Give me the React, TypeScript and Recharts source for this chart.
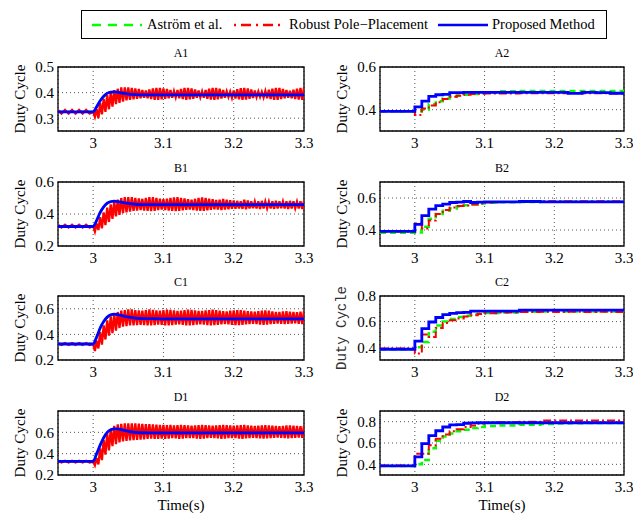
import React from "react";
import { LineChart, Line, XAxis, YAxis, CartesianGrid, ReferenceArea } from "recharts";

const SERIF = '"Liberation Serif", "Times New Roman", serif';
const MONO = '"Liberation Mono", "Courier New", monospace';

// time bases (s)
const tDense = [
  2.95, 2.955, 2.96, 2.965, 2.97, 2.975, 2.98, 2.985, 2.99, 2.995,
  3, 3.0025, 3.005, 3.0075, 3.01, 3.0125, 3.015, 3.0175, 3.02, 3.0225,
  3.025, 3.0275, 3.03, 3.0325, 3.035, 3.0375, 3.04, 3.0425, 3.045, 3.0475,
  3.05, 3.0525, 3.055, 3.0575, 3.06, 3.0625, 3.065, 3.0675, 3.07, 3.0725,
  3.075, 3.0775, 3.08, 3.0825, 3.085, 3.0875, 3.09, 3.0925, 3.095, 3.0975,
  3.1, 3.1025, 3.105, 3.1075, 3.11, 3.1125, 3.115, 3.1175, 3.12, 3.1225,
  3.125, 3.1275, 3.13, 3.1325, 3.135, 3.1375, 3.14, 3.1425, 3.145, 3.1475,
  3.15, 3.1525, 3.155, 3.1575, 3.16, 3.1625, 3.165, 3.1675, 3.17, 3.1725,
  3.175, 3.1775, 3.18, 3.1825, 3.185, 3.1875, 3.19, 3.1925, 3.195, 3.1975,
  3.2, 3.2025, 3.205, 3.2075, 3.21, 3.2125, 3.215, 3.2175, 3.22, 3.2225,
  3.225, 3.2275, 3.23, 3.2325, 3.235, 3.2375, 3.24, 3.2425, 3.245, 3.2475,
  3.25, 3.2525, 3.255, 3.2575, 3.26, 3.2625, 3.265, 3.2675, 3.27, 3.2725,
  3.275, 3.2775, 3.28, 3.2825, 3.285, 3.2875, 3.29, 3.2925, 3.295, 3.2975,
  3.3,
];
const tSmooth = [2.95, 3, 3.005, 3.01, 3.015, 3.02, 3.025, 3.03, 3.035, 3.04, 3.05, 3.06, 3.07, 3.08, 3.1, 3.2, 3.3];
const tStep = [2.95, 3, 3.01, 3.02, 3.03, 3.04, 3.05, 3.06, 3.07, 3.08, 3.09, 3.1, 3.12, 3.15, 3.18, 3.2, 3.22, 3.24, 3.26, 3.28, 3.3];

const xTicks = [3, 3.1, 3.2, 3.3];
const legendNames = ["Aström et al.", "Robust Pole\u2212Placement", "Proposed Method"];

// ---- left column (A1..D1): robust pole-placement oscillates heavily ----
const redA1 = [
  0.332, 0.318, 0.332, 0.318, 0.332, 0.318, 0.332, 0.318, 0.332, 0.318,
  0.325, 0.305, 0.335, 0.3, 0.36, 0.315, 0.375, 0.325, 0.39, 0.335,
  0.4, 0.345, 0.41, 0.355, 0.415, 0.36, 0.42, 0.365, 0.42, 0.37, 0.42,
  0.372, 0.418, 0.374, 0.416, 0.376, 0.414, 0.378, 0.41, 0.38, 0.408,
  0.378, 0.412, 0.375, 0.416, 0.372, 0.418, 0.372, 0.418, 0.374, 0.416,
  0.376, 0.414, 0.378, 0.41, 0.38, 0.406, 0.382, 0.41, 0.378, 0.414,
  0.375, 0.418, 0.372, 0.418, 0.374, 0.416, 0.376, 0.412, 0.38, 0.408,
  0.382, 0.405, 0.38, 0.41, 0.376, 0.415, 0.373, 0.418, 0.372, 0.418,
  0.374, 0.415, 0.377, 0.41, 0.38, 0.405, 0.383, 0.404, 0.38, 0.408,
  0.377, 0.413, 0.374, 0.417, 0.372, 0.418, 0.373, 0.416, 0.376, 0.412,
  0.379, 0.408, 0.382, 0.404, 0.383, 0.403, 0.381, 0.406, 0.378, 0.411,
  0.375, 0.415, 0.372, 0.418, 0.372, 0.418, 0.375, 0.414, 0.378, 0.41,
  0.38, 0.407, 0.378, 0.411, 0.375, 0.415, 0.373, 0.418, 0.372, 0.418,
];
const redB1 = [
  0.333, 0.315, 0.333, 0.315, 0.333, 0.315, 0.333, 0.315, 0.333, 0.315,
  0.325, 0.29, 0.34, 0.3, 0.38, 0.31, 0.41, 0.33, 0.44, 0.35,
  0.46, 0.37, 0.48, 0.385, 0.49, 0.395, 0.5, 0.405, 0.505, 0.41, 0.505,
  0.415, 0.505, 0.42, 0.5, 0.422, 0.498, 0.425, 0.495, 0.422, 0.5,
  0.42, 0.505, 0.418, 0.505, 0.42, 0.5, 0.424, 0.496, 0.427, 0.492,
  0.425, 0.496, 0.422, 0.5, 0.42, 0.504, 0.418, 0.505, 0.42, 0.5,
  0.423, 0.497, 0.426, 0.493, 0.428, 0.49, 0.425, 0.495, 0.422, 0.5,
  0.42, 0.503, 0.42, 0.5, 0.423, 0.496, 0.426, 0.492, 0.43, 0.488,
  0.428, 0.49, 0.425, 0.494, 0.428, 0.49, 0.43, 0.486, 0.432, 0.484,
  0.433, 0.482, 0.435, 0.48, 0.432, 0.49, 0.43, 0.485, 0.434, 0.48,
  0.436, 0.478, 0.435, 0.48, 0.432, 0.482, 0.435, 0.478, 0.436, 0.477,
  0.434, 0.48, 0.432, 0.483, 0.434, 0.48, 0.436, 0.478, 0.435, 0.48,
  0.432, 0.482, 0.434, 0.48, 0.436, 0.477, 0.434, 0.48, 0.432, 0.482,
];
const redC1 = [
  0.333, 0.317, 0.333, 0.317, 0.333, 0.317, 0.333, 0.317, 0.333, 0.317,
  0.325, 0.27, 0.35, 0.29, 0.42, 0.32, 0.47, 0.36, 0.51, 0.39,
  0.54, 0.41, 0.56, 0.43, 0.575, 0.45, 0.585, 0.46, 0.59, 0.465, 0.595,
  0.47, 0.595, 0.47, 0.59, 0.472, 0.588, 0.475, 0.585, 0.472, 0.59,
  0.47, 0.595, 0.47, 0.592, 0.473, 0.588, 0.476, 0.585, 0.474, 0.59,
  0.471, 0.594, 0.47, 0.592, 0.472, 0.588, 0.476, 0.584, 0.478, 0.586,
  0.474, 0.59, 0.471, 0.594, 0.47, 0.592, 0.473, 0.588, 0.476, 0.584,
  0.478, 0.583, 0.476, 0.587, 0.473, 0.59, 0.471, 0.593, 0.472, 0.59,
  0.475, 0.586, 0.478, 0.582, 0.48, 0.58, 0.478, 0.585, 0.475, 0.588,
  0.473, 0.59, 0.472, 0.59, 0.475, 0.586, 0.478, 0.582, 0.48, 0.58,
  0.482, 0.578, 0.48, 0.582, 0.477, 0.586, 0.475, 0.588, 0.477, 0.585,
  0.48, 0.58, 0.483, 0.576, 0.485, 0.575, 0.482, 0.58, 0.48, 0.582,
  0.482, 0.578, 0.485, 0.575, 0.486, 0.574, 0.483, 0.578, 0.48, 0.582,
];
const redD1 = [
  0.333, 0.317, 0.333, 0.317, 0.333, 0.317, 0.333, 0.317, 0.333, 0.317,
  0.325, 0.29, 0.36, 0.3, 0.45, 0.34, 0.53, 0.39, 0.59, 0.43,
  0.63, 0.47, 0.66, 0.49, 0.675, 0.505, 0.68, 0.515, 0.685, 0.52, 0.685,
  0.525, 0.685, 0.528, 0.685, 0.53, 0.682, 0.532, 0.68, 0.535, 0.678,
  0.538, 0.676, 0.54, 0.674, 0.538, 0.672, 0.54, 0.67, 0.542, 0.67,
  0.54, 0.668, 0.542, 0.67, 0.545, 0.666, 0.543, 0.668, 0.54, 0.67,
  0.542, 0.667, 0.545, 0.665, 0.547, 0.663, 0.545, 0.665, 0.542, 0.668,
  0.54, 0.67, 0.542, 0.667, 0.545, 0.664, 0.548, 0.662, 0.546, 0.665,
  0.543, 0.668, 0.54, 0.67, 0.542, 0.667, 0.545, 0.664, 0.547, 0.662,
  0.545, 0.665, 0.542, 0.668, 0.54, 0.67, 0.543, 0.666, 0.546, 0.663,
  0.548, 0.66, 0.546, 0.663, 0.543, 0.666, 0.541, 0.668, 0.543, 0.666,
  0.546, 0.663, 0.548, 0.66, 0.55, 0.658, 0.548, 0.661, 0.545, 0.664,
  0.543, 0.666, 0.545, 0.663, 0.548, 0.66, 0.55, 0.658, 0.548, 0.662,
];
const blueA1 = [0.325, 0.325, 0.345, 0.368, 0.386, 0.397, 0.402, 0.403, 0.402, 0.399, 0.394, 0.392, 0.391, 0.391, 0.391, 0.391, 0.391];
const blueB1 = [0.322, 0.322, 0.36, 0.41, 0.445, 0.468, 0.478, 0.48, 0.478, 0.474, 0.466, 0.461, 0.459, 0.458, 0.458, 0.458, 0.458];
const blueC1 = [0.325, 0.325, 0.38, 0.45, 0.5, 0.535, 0.553, 0.558, 0.555, 0.548, 0.535, 0.527, 0.524, 0.523, 0.522, 0.522, 0.522];
const blueD1 = [0.328, 0.328, 0.4, 0.48, 0.55, 0.6, 0.625, 0.633, 0.632, 0.625, 0.61, 0.6, 0.596, 0.595, 0.595, 0.595, 0.595];
// Astrom curves sit underneath the proposed one in the left column
const greenA1 = [0.325, 0.325, 0.343, 0.366, 0.384, 0.396, 0.401, 0.402, 0.401, 0.399, 0.394, 0.392, 0.391, 0.391, 0.391, 0.391, 0.391];
const greenB1 = [0.322, 0.322, 0.358, 0.408, 0.443, 0.466, 0.476, 0.478, 0.477, 0.473, 0.466, 0.461, 0.459, 0.458, 0.458, 0.458, 0.458];
const greenC1 = [0.325, 0.325, 0.378, 0.448, 0.498, 0.533, 0.551, 0.556, 0.554, 0.547, 0.535, 0.527, 0.524, 0.523, 0.522, 0.522, 0.522];
const greenD1 = [0.328, 0.328, 0.398, 0.478, 0.548, 0.598, 0.623, 0.631, 0.63, 0.624, 0.61, 0.6, 0.596, 0.595, 0.595, 0.595, 0.595];

// ---- right column (A2..D2): sampled staircase responses ----
const blueA2 = [0.392, 0.413, 0.44, 0.462, 0.47, 0.472, 0.48, 0.48, 0.481, 0.481, 0.481, 0.481, 0.481, 0.481, 0.481, 0.481, 0.476, 0.481, 0.48, 0.477, 0.481];
const greenA2 = [0.392, 0.392, 0.4, 0.425, 0.44, 0.452, 0.46, 0.466, 0.47, 0.474, 0.477, 0.48, 0.486, 0.488, 0.488, 0.488, 0.488, 0.488, 0.488, 0.488, 0.488];
const redA2 = [0.392, 0.375, 0.405, 0.42, 0.435, 0.45, 0.46, 0.465, 0.47, 0.473, 0.475, 0.476, 0.476, 0.477, 0.477, 0.477, 0.478, 0.477, 0.477, 0.476, 0.476];

const blueB2 = [0.392, 0.435, 0.49, 0.53, 0.552, 0.562, 0.572, 0.574, 0.578, 0.572, 0.574, 0.576, 0.576, 0.578, 0.576, 0.576, 0.576, 0.576, 0.576, 0.576, 0.576];
const greenB2 = [0.383, 0.385, 0.42, 0.47, 0.5, 0.52, 0.535, 0.547, 0.555, 0.56, 0.565, 0.57, 0.574, 0.575, 0.576, 0.576, 0.576, 0.576, 0.576, 0.576, 0.576];
const redB2 = [0.39, 0.44, 0.41, 0.46, 0.5, 0.525, 0.54, 0.55, 0.553, 0.56, 0.565, 0.572, 0.575, 0.578, 0.579, 0.579, 0.579, 0.579, 0.579, 0.579, 0.579];

const blueC2 = [0.384, 0.447, 0.545, 0.597, 0.632, 0.655, 0.665, 0.67, 0.672, 0.682, 0.682, 0.682, 0.682, 0.69, 0.69, 0.69, 0.69, 0.69, 0.69, 0.69, 0.69];
const greenC2 = [0.384, 0.4, 0.44, 0.52, 0.57, 0.6, 0.62, 0.635, 0.645, 0.655, 0.662, 0.667, 0.672, 0.676, 0.678, 0.678, 0.678, 0.678, 0.678, 0.678, 0.678];
const redC2 = [0.39, 0.35, 0.5, 0.48, 0.55, 0.59, 0.61, 0.625, 0.64, 0.65, 0.66, 0.665, 0.672, 0.675, 0.676, 0.675, 0.676, 0.675, 0.676, 0.675, 0.676];

const blueD2 = [0.385, 0.47, 0.595, 0.67, 0.715, 0.75, 0.77, 0.772, 0.785, 0.788, 0.79, 0.79, 0.79, 0.79, 0.79, 0.79, 0.79, 0.79, 0.79, 0.79, 0.79];
const greenD2 = [0.385, 0.4, 0.44, 0.55, 0.62, 0.66, 0.69, 0.71, 0.725, 0.74, 0.75, 0.76, 0.765, 0.772, 0.778, 0.782, 0.785, 0.787, 0.788, 0.788, 0.788];
const redD2 = [0.39, 0.5, 0.5, 0.58, 0.64, 0.68, 0.71, 0.73, 0.75, 0.765, 0.78, 0.79, 0.795, 0.8, 0.81, 0.81, 0.812, 0.812, 0.812, 0.812, 0.812];

const zip = (t: number[], v: number[]) => t.map((x, i) => ({ t: x, v: v[i] }));

const COL_X = [58, 380];
const COL_W = [246, 244];
const ROW_Y = [67, 182, 296, 411];
const PLOT_H = 64;
const YAXIS_W = 58;

interface PanelDef {
  title: string;
  row: number;
  col: number;
  domain: [number, number];
  ticks: number[];
  green: number[];
  red: number[];
  blue: number[];
  mono?: boolean;
}

const panels: PanelDef[] = [
  { title: "A1", row: 0, col: 0, domain: [0.25, 0.5], ticks: [0.3, 0.4, 0.5], green: greenA1, red: redA1, blue: blueA1 },
  { title: "A2", row: 0, col: 1, domain: [0.3, 0.6], ticks: [0.4, 0.6], green: greenA2, red: redA2, blue: blueA2 },
  { title: "B1", row: 1, col: 0, domain: [0.2, 0.6], ticks: [0.2, 0.4, 0.6], green: greenB1, red: redB1, blue: blueB1 },
  { title: "B2", row: 1, col: 1, domain: [0.3, 0.7], ticks: [0.4, 0.6], green: greenB2, red: redB2, blue: blueB2 },
  { title: "C1", row: 2, col: 0, domain: [0.2, 0.7], ticks: [0.2, 0.4, 0.6], green: greenC1, red: redC1, blue: blueC1 },
  { title: "C2", row: 2, col: 1, domain: [0.3, 0.8], ticks: [0.4, 0.6, 0.8], green: greenC2, red: redC2, blue: blueC2, mono: true },
  { title: "D1", row: 3, col: 0, domain: [0.2, 0.8], ticks: [0.2, 0.4, 0.6], green: greenD1, red: redD1, blue: blueD1 },
  { title: "D2", row: 3, col: 1, domain: [0.3, 0.9], ticks: [0.4, 0.6, 0.8], green: greenD2, red: redD2, blue: blueD2 },
];

// eslint-disable-next-line @typescript-eslint/no-explicit-any
const XTick = ({ x, y, payload }: any) => (
  <text x={x} y={y} dy="0.71em" textAnchor="middle" fill="#000" fontFamily={SERIF} fontSize={15} style={{ fontFamily: SERIF, fontSize: 15 }}>
    {String(payload.value)}
  </text>
);
// eslint-disable-next-line @typescript-eslint/no-explicit-any
const YTick = ({ x, y, payload }: any) => (
  <text x={x} y={y} dy="0.355em" textAnchor="end" fill="#000" fontFamily={SERIF} fontSize={15} style={{ fontFamily: SERIF, fontSize: 15 }}>
    {String(payload.value)}
  </text>
);

function Panel({ p }: { p: PanelDef }) {
  const px = COL_X[p.col];
  const pw = COL_W[p.col];
  const py = ROW_Y[p.row];
  const stepped = p.col === 1;
  const tg = stepped ? tStep : tSmooth;
  const tr = stepped ? tStep : tDense;
  const labelX = p.col === 0 ? 20 : 341.5;
  return (
    <>
      <div style={{ position: "absolute", left: px, width: pw, top: py - 21, lineHeight: "14px", textAlign: "center", fontFamily: SERIF, fontSize: 12 }}>
        {p.title}
      </div>
      <div
        style={{
          position: "absolute", left: labelX - 60, top: py + PLOT_H / 2 - 10, width: 120, height: 20, lineHeight: "20px",
          textAlign: "center", transform: "rotate(-90deg)", whiteSpace: "nowrap",
          fontFamily: p.mono ? MONO : SERIF, fontSize: p.mono ? 14 : 15, color: p.mono ? "#333" : "#000",
        }}
      >
        Duty Cycle
      </div>
      <div style={{ position: "absolute", left: px - YAXIS_W, top: py - 8, fontFamily: SERIF }}>
        <LineChart width={YAXIS_W + pw + 14} height={8 + PLOT_H + 26} margin={{ top: 8, right: 14, left: 0, bottom: 0 }}>
          <CartesianGrid stroke="#555" strokeDasharray="1 3" />
          <XAxis
            dataKey="t" type="number" domain={[2.95, 3.3]} ticks={xTicks} interval={0} allowDataOverflow
            axisLine={false} tickLine={false} tickSize={0} tickMargin={6} height={26} tick={<XTick />}
          />
          <YAxis
            type="number" domain={p.domain} ticks={p.ticks} interval={0} allowDataOverflow width={YAXIS_W}
            axisLine={false} tickLine={false} tickSize={0} tickMargin={4} tick={<YTick />}
          />
          <Line
            data={zip(tg, p.green)} dataKey="v" type={stepped ? "stepAfter" : "monotone"} stroke="#00ff00" strokeWidth={2.5}
            strokeDasharray="6 4" dot={false} isAnimationActive={false}
          />
          <Line
            data={zip(tr, p.red)} dataKey="v" type={stepped ? "stepAfter" : "linear"} stroke="#ff0000" strokeWidth={stepped ? 2 : 2.3}
            strokeDasharray={stepped ? "8 3 2 3" : undefined} dot={false} isAnimationActive={false}
          />
          <Line
            data={zip(tg, p.blue)} dataKey="v" type={stepped ? "stepAfter" : "monotone"} stroke="#0000ff" strokeWidth={2.8}
            dot={false} isAnimationActive={false}
          />
          <ReferenceArea x1={2.95} x2={3.3} y1={p.domain[0]} y2={p.domain[1]} fill="none" stroke="#000" strokeWidth={1.3} />
        </LineChart>
      </div>
    </>
  );
}

function LegendSwatch({ color, dash }: { color: string; dash?: string }) {
  return (
    <svg width={50} height={6} style={{ display: "block" }}>
      <line x1={0} y1={3} x2={50} y2={3} stroke={color} strokeWidth={2.5} strokeDasharray={dash} />
    </svg>
  );
}

export default function App() {
  const items = [
    { color: "#00ff00", dash: "9 7", line: 10, text: 65 },
    { color: "#ff0000", dash: "2 5 10 5", line: 152, text: 207 },
    { color: "#0000ff", dash: undefined, line: 356, text: 410 },
  ];
  return (
    <div style={{ position: "absolute", left: 0, top: 0, width: 633, height: 516, background: "#fff", overflow: "hidden" }}>
      <div style={{ position: "absolute", left: 81, top: 10, width: 526, height: 29, border: "1.3px solid #000", boxSizing: "border-box" }}>
        {items.map((it, i) => (
          <React.Fragment key={i}>
            <div style={{ position: "absolute", left: it.line, top: 11 }}>
              <LegendSwatch color={it.color} dash={it.dash} />
            </div>
            <div style={{ position: "absolute", left: it.text, top: 4, lineHeight: "18px", fontFamily: SERIF, fontSize: 14.5, whiteSpace: "nowrap" }}>
              {legendNames[i]}
            </div>
          </React.Fragment>
        ))}
      </div>
      {panels.map((p) => (
        <Panel key={p.title} p={p} />
      ))}
      {[0, 1].map((c) => (
        <div key={c} style={{ position: "absolute", left: COL_X[c], width: COL_W[c], top: 496, lineHeight: "18px", textAlign: "center", fontFamily: SERIF, fontSize: 15 }}>
          Time(s)
        </div>
      ))}
    </div>
  );
}
